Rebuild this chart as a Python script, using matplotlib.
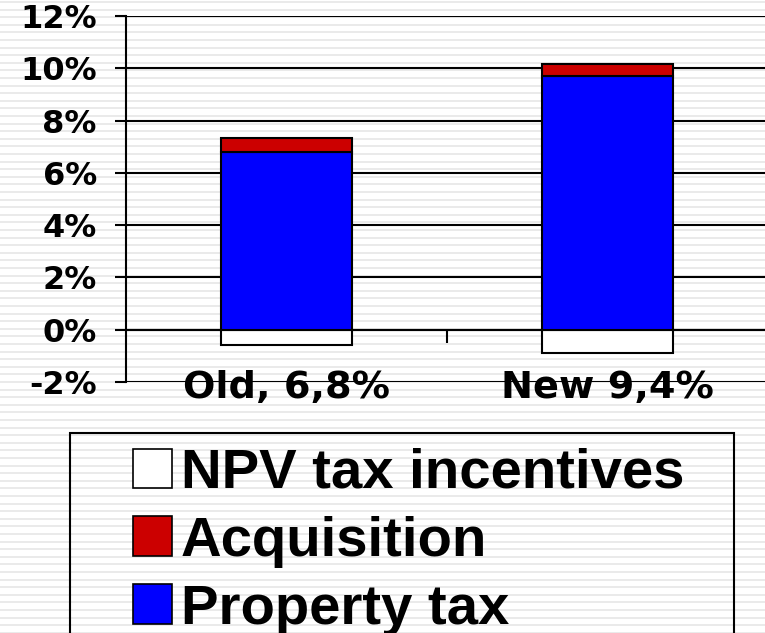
import matplotlib
matplotlib.use("Agg")
import matplotlib.pyplot as plt
from matplotlib.patches import Patch, Rectangle
from matplotlib.lines import Line2D
import matplotlib.transforms as mtransforms
import numpy as np

# ---- data ----
categories = ["Old, 6,8%", "New 9,4%"]
property_tax = [6.8, 9.7]
acquisition = [0.55, 0.45]
npv_incentives = [-0.6, -0.9]
series_labels = ["NPV tax incentives", "Acquisition", "Property tax"]
yticks = [-2, 0, 2, 4, 6, 8, 10, 12]

W, H = 765, 633
fig = plt.figure(figsize=(W / 100, H / 100), dpi=100)
fig.patch.set_facecolor("white")

# striped slide background
for yp in np.arange(2, H + 8, 7.6):
    fig.add_artist(Line2D([0, 1], [1 - yp / H, 1 - yp / H], transform=fig.transFigure,
                          color="#e6e6e6", lw=1.2, zorder=-10))

ax = fig.add_axes([126 / W, 1 - 382 / H, 642 / W, 366 / H])
ax.patch.set_alpha(0)

x = np.arange(len(categories))
bw = 0.405
ec = "black"
lw = 1.5
ax.bar(x, npv_incentives, bw, color="white", edgecolor=ec, linewidth=lw, zorder=3)
ax.bar(x, property_tax, bw, color="#0000ff", edgecolor=ec, linewidth=lw, zorder=3)
ax.bar(x, acquisition, bw, bottom=property_tax, color="#cc0000", edgecolor=ec,
       linewidth=lw, zorder=3)

ax.set_xlim(-0.5, 1.5)
ax.set_ylim(-2, 12)
ax.set_yticks(yticks)
ax.set_yticklabels([f"{v}%" for v in yticks], fontfamily="DejaVu Sans",
                   fontweight="bold", fontsize=23)
ax.tick_params(axis="y", length=8, width=lw, pad=13, color="black")
ax.yaxis.grid(True, color="black", lw=lw, zorder=0)
ax.set_axisbelow(True)

for s in ["top", "right"]:
    ax.spines[s].set_visible(False)
ax.spines["left"].set_linewidth(lw)
ax.spines["bottom"].set_position(("data", 0))
ax.spines["bottom"].set_linewidth(lw)
ax.set_xticks([0.5, 1.5])
ax.set_xticklabels([])
ax.tick_params(axis="x", length=9, width=lw, direction="out")

off = mtransforms.offset_copy(ax.transData, fig=fig, x=0, y=-4, units="points")
for i, c in enumerate(categories):
    ax.text(i, -2, c, ha="center", va="center", fontfamily="DejaVu Sans",
            fontweight="bold", fontsize=27.5, zorder=5, transform=off)

# legend
handles = [Patch(facecolor="white", edgecolor="black", lw=1.2),
           Patch(facecolor="#cc0000", edgecolor="black", lw=1.2),
           Patch(facecolor="#0000ff", edgecolor="black", lw=1.2)]
fig.legend(handles, series_labels, loc="upper left",
           bbox_to_anchor=(133 / W, 1 - 448 / H), frameon=False,
           prop={"family": "Liberation Sans", "weight": "bold", "size": 40.5},
           handlelength=0.7, handleheight=0.7, handletextpad=0.15,
           labelspacing=0.28, borderpad=0, borderaxespad=0)
fig.add_artist(Rectangle((70 / W, -0.1), (734 - 70) / W, 0.1 + 1 - 433 / H,
                         transform=fig.transFigure, fill=False, edgecolor="black",
                         lw=1.5))

fig.savefig("out.png", dpi=100, facecolor="white")
